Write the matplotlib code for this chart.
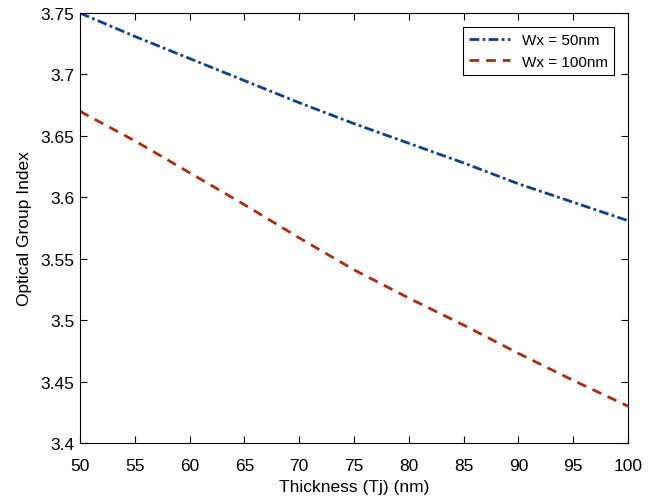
import matplotlib
matplotlib.use('Agg')
from matplotlib import pyplot as plt

plt.rcParams['font.family'] = ['Liberation Sans', 'DejaVu Sans']

# thickness sweep and group index for the two widths
thickness = [50, 55, 60, 65, 70, 75, 80, 85, 90, 95, 100]
ng_50nm = [3.750, 3.731, 3.713, 3.695, 3.677, 3.660, 3.644, 3.628, 3.611, 3.596, 3.581]
ng_100nm = [3.670, 3.646, 3.620, 3.594, 3.567, 3.541, 3.518, 3.496, 3.473, 3.451, 3.430]

fig = plt.figure(figsize=(6.67, 5.02), dpi=100)
ax = fig.add_axes([0.12, 0.1155, 0.8215, 0.8565])

ax.plot(thickness, ng_50nm, color='#0b3f8f', lw=2, linestyle=(0, (3.5, 1.2, 1, 1.2)),
        label='Wx = 50nm')
ax.plot(thickness, ng_100nm, color='#b02a08', lw=2, linestyle=(0, (3.5, 2.5)),
        label='Wx = 100nm')

ax.set_xlim(50, 100)
ax.set_ylim(3.4, 3.75)
ax.set_xticks(range(50, 101, 5))
ax.set_yticks([3.4, 3.45, 3.5, 3.55, 3.6, 3.65, 3.7, 3.75])
ax.set_yticklabels(['3.4', '3.45', '3.5', '3.55', '3.6', '3.65', '3.7', '3.75'])
ax.tick_params(direction='in', top=True, right=True, labelsize=12.5, length=5)
ax.tick_params(axis='x', pad=11)
ax.tick_params(axis='y', pad=4)
for s in ax.spines.values():
    s.set_linewidth(0.8)

ax.set_xlabel('Thickness (Tj) (nm)', fontsize=12.5, labelpad=4)
ax.set_ylabel('Optical Group Index', fontsize=12.5, labelpad=6)

leg = ax.legend(loc='upper right', fontsize=11, fancybox=False, framealpha=1,
                edgecolor='black', borderaxespad=0.9, handlelength=2.7)
leg.get_frame().set_linewidth(0.8)

fig.savefig('out.png', dpi=100)
